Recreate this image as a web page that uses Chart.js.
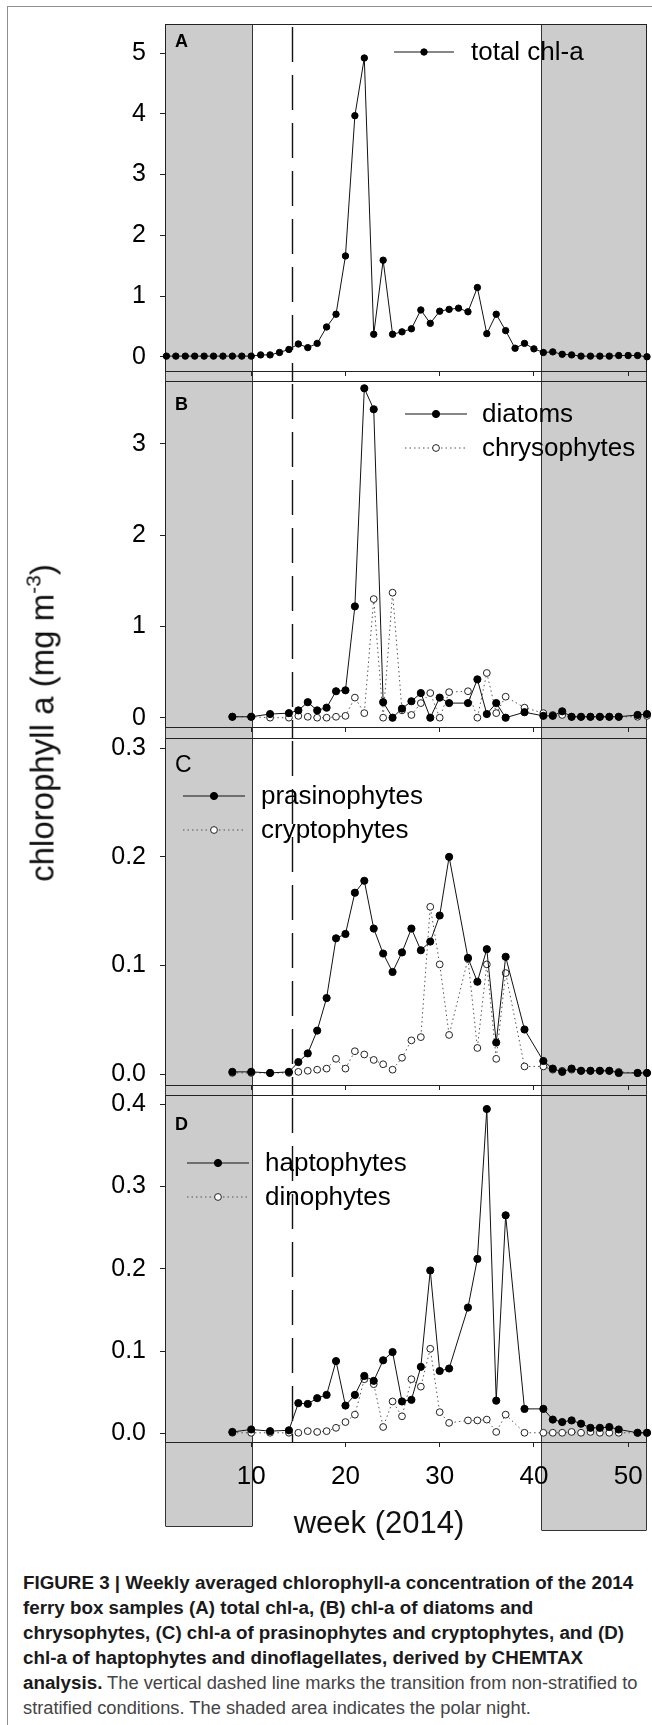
<!DOCTYPE html>
<html>
<head>
<meta charset="utf-8">
<script src="https://cdn.jsdelivr.net/npm/chart.js@4.4.0/dist/chart.umd.min.js"></script>
<style>
  body { margin: 0; background: #fff; width: 652px; height: 1725px; overflow: hidden; position: relative;
         font-family: "Liberation Sans", Arial, sans-serif; }
  .frame { position: absolute; left: 7px; top: 6px; width: 700px; height: 1800px; border: 1px solid #8f8f8f; }
  canvas { position: absolute; left: 0; }
  .ytitle { position: absolute; left: 42px; top: 723px; transform: translate(-50%, -50%) rotate(-90deg);
            font-size: 33px; line-height: 1; white-space: nowrap; color: #111; }
  .ytitle sup { font-size: 21px; vertical-align: 13px; line-height: 0; }
  .xtitle { position: absolute; left: 379px; top: 1522px; transform: translate(-50%, -50%);
            font-size: 31px; line-height: 1; white-space: nowrap; color: #111; }
  .caption { position: absolute; left: 23px; top: 1570px; font-size: 18.3px; line-height: 25px;
             white-space: nowrap; color: #444; }
  .caption b { color: #1a1a1a; font-size: 18.8px; }
</style>
</head>
<body>
<div class="frame"></div>
<canvas id="panelA" width="652" height="381" style="top:0px"></canvas>
<canvas id="panelB" width="652" height="367" style="top:371px"></canvas>
<canvas id="panelC" width="652" height="367" style="top:728px"></canvas>
<canvas id="panelD" width="652" height="460" style="top:1085px"></canvas>
<div class="ytitle">chlorophyll a (mg m<sup>-3</sup>)</div>
<div class="xtitle">week (2014)</div>
<div class="caption">
  <b>FIGURE 3 | Weekly averaged chlorophyll-a concentration of the 2014</b><br>
  <b>ferry box samples (A) total chl-a, (B) chl-a of diatoms and</b><br>
  <b>chrysophytes, (C) chl-a of prasinophytes and cryptophytes, and (D)</b><br>
  <b>chl-a of haptophytes and dinoflagellates, derived by CHEMTAX</b><br>
  <b>analysis.</b> The vertical dashed line marks the transition from non-stratified to<br>
  stratified conditions. The shaded area indicates the polar night.
</div>
<script>
// weeks sampled
const weeksA = [1, 2, 3, 4, 5, 6, 7, 8, 9, 10, 11, 12, 13, 14, 15, 16, 17, 18, 19, 20,
  21, 22, 23, 24, 25, 26, 27, 28, 29, 30, 31, 32, 33, 34, 35, 36, 37, 38, 39, 40,
  41, 42, 43, 44, 45, 46, 47, 48, 49, 50, 51, 52];
const weeksBD = [8, 10, 12, 14, 15, 16, 17, 18, 19, 20, 21, 22, 23, 24, 25, 26, 27, 28, 29, 30,
  31, 33, 34, 35, 36, 37, 39, 41, 42, 43, 44, 45, 46, 47, 48, 49, 51, 52];

const totalChl = [0.01, 0.01, 0.01, 0.01, 0.01, 0.01, 0.01, 0.01, 0.01, 0.01,
  0.03, 0.03, 0.07, 0.12, 0.21, 0.15, 0.22, 0.49, 0.70, 1.66,
  3.97, 4.92, 0.37, 1.59, 0.37, 0.41, 0.46, 0.77, 0.55, 0.75,
  0.78, 0.80, 0.74, 1.14, 0.38, 0.70, 0.43, 0.14, 0.22, 0.13,
  0.07, 0.08, 0.04, 0.03, 0.01, 0.01, 0.01, 0.01, 0.02, 0.02, 0.02, 0.00];

const diatoms = [0.01, 0.01, 0.04, 0.05, 0.08, 0.17, 0.08, 0.11, 0.29, 0.30,
  1.22, 3.61, 3.38, 0.17, 0.00, 0.10, 0.18, 0.27, 0.00, 0.22,
  0.16, 0.16, 0.42, 0.04, 0.16, 0.00, 0.06, 0.02, 0.02, 0.07,
  0.01, 0.01, 0.01, 0.01, 0.01, 0.01, 0.03, 0.04];
const chrysophytes = [0.01, 0.01, 0.00, 0.00, 0.02, 0.01, 0.00, 0.00, 0.01, 0.02,
  0.22, 0.05, 1.30, 0.00, 1.37, 0.08, 0.03, 0.16, 0.27, 0.00,
  0.28, 0.29, 0.00, 0.49, 0.05, 0.23, 0.11, 0.05, 0.03, 0.03,
  0.01, 0.01, 0.01, 0.01, 0.01, 0.01, 0.01, 0.02];

const prasinophytes = [0.002, 0.002, 0.001, 0.002, 0.011, 0.019, 0.040, 0.070, 0.125, 0.129,
  0.167, 0.178, 0.134, 0.111, 0.094, 0.112, 0.134, 0.114, 0.122, 0.146,
  0.200, 0.107, 0.085, 0.115, 0.029, 0.108, 0.041, 0.012, 0.005, 0.002,
  0.005, 0.003, 0.003, 0.003, 0.003, 0.001, 0.001, 0.001];
const cryptophytes = [0.001, 0.001, 0.001, 0.001, 0.002, 0.003, 0.004, 0.005, 0.014, 0.005,
  0.021, 0.018, 0.013, 0.009, 0.004, 0.015, 0.031, 0.034, 0.154, 0.101,
  0.036, 0.106, 0.024, 0.101, 0.014, 0.093, 0.007, 0.007, 0.004, 0.003,
  0.004, 0.003, 0.003, 0.003, 0.003, 0.002, 0.001, 0.001];

const haptophytes = [0.002, 0.005, 0.003, 0.004, 0.037, 0.036, 0.043, 0.047, 0.088, 0.034,
  0.047, 0.070, 0.064, 0.089, 0.099, 0.039, 0.041, 0.081, 0.198, 0.076,
  0.079, 0.153, 0.212, 0.394, 0.040, 0.265, 0.030, 0.030, 0.017, 0.014,
  0.016, 0.012, 0.007, 0.007, 0.008, 0.005, 0.001, 0.001];
const dinophytes = [0.001, 0.001, 0.001, 0.001, 0.001, 0.003, 0.002, 0.003, 0.007, 0.014,
  0.023, 0.066, 0.060, 0.008, 0.039, 0.021, 0.066, 0.057, 0.103, 0.026,
  0.013, 0.016, 0.016, 0.017, 0.002, 0.023, 0.001, 0.001, 0.001, 0.001,
  0.002, 0.001, 0.002, 0.001, 0.001, 0.001, 0.001, 0.001];

// axis ticks
const weekTicks = ['10', '20', '30', '40', '50'];
const ticksA = ['0', '1', '2', '3', '4', '5'];
const ticksB = ['0', '1', '2', '3'];
const ticksC = ['0.0', '0.1', '0.2', '0.3'];
const ticksD = ['0.0', '0.1', '0.2', '0.3', '0.4'];

// polar night shading and stratification onset (weeks)
const nightEnd = 10.05;
const nightStart = 40.7;
const stratWeek = 14.35;

const FONT = '"Liberation Sans", Arial, sans-serif';

function crisp(v) { return Math.round(v) + 0.5; }

// shading, dashed line and panel frame go under the axes and the data
const backdrop = {
  id: 'backdrop',
  beforeDraw(chart, args, opts) {
    const { ctx, chartArea: a, scales: { x } } = chart;
    const xl = crisp(x.getPixelForValue(nightEnd));
    const xr = crisp(x.getPixelForValue(nightStart));
    const left = crisp(a.left), right = crisp(a.right) - 1;
    const botL = opts.boxBottom ? a.bottom + opts.boxBottom[0] : chart.height;
    const botR = opts.boxBottom ? a.bottom + opts.boxBottom[1] : chart.height;
    ctx.save();
    ctx.fillStyle = '#cccccc';
    ctx.fillRect(left, a.top, xl - left, botL - a.top);
    ctx.fillRect(xr, a.top, right - xr, botR - a.top);

    ctx.strokeStyle = '#333';
    ctx.lineWidth = 1;
    ctx.beginPath();
    ctx.moveTo(xl, a.top); ctx.lineTo(xl, botL);
    ctx.moveTo(xr, a.top); ctx.lineTo(xr, botR);
    ctx.moveTo(left, a.top); ctx.lineTo(left, botL);
    ctx.moveTo(right, a.top); ctx.lineTo(right, botR);
    if (opts.boxBottom) {
      ctx.moveTo(left, crisp(botL)); ctx.lineTo(xl, crisp(botL));
      ctx.moveTo(xr, crisp(botR)); ctx.lineTo(right, crisp(botR));
    }
    ctx.stroke();

    const xs = crisp(x.getPixelForValue(stratWeek));
    ctx.strokeStyle = '#111';
    ctx.lineWidth = 1.4;
    ctx.setLineDash([35, 13]);
    ctx.beginPath();
    ctx.moveTo(xs, a.top + 3);
    ctx.lineTo(xs, opts.boxBottom ? a.bottom : chart.height);
    ctx.stroke();
    ctx.setLineDash([]);

    ctx.strokeStyle = '#222';
    ctx.lineWidth = 1;
    ctx.strokeRect(left, crisp(a.top), right - left, Math.round(a.bottom - a.top));
    ctx.restore();
  }
};

const keyBox = {
  id: 'keyBox',
  afterDatasetsDraw(chart, args, opts) {
    const { ctx, chartArea: a } = chart;
    ctx.save();
    chart.data.datasets.forEach((ds, i) => {
      const y = opts.y + i * 34;
      ctx.strokeStyle = ds.borderColor;
      ctx.lineWidth = ds.borderWidth;
      ctx.setLineDash(ds.borderDash || []);
      ctx.beginPath();
      ctx.moveTo(opts.x1, y); ctx.lineTo(opts.x2, y);
      ctx.stroke();
      ctx.setLineDash([]);
      ctx.beginPath();
      ctx.arc((opts.x1 + opts.x2) / 2, y, ds.pointRadius, 0, Math.PI * 2);
      ctx.fillStyle = ds.pointBackgroundColor;
      ctx.fill();
      ctx.strokeStyle = ds.pointBorderColor;
      ctx.lineWidth = 1;
      ctx.stroke();
      ctx.fillStyle = '#000';
      ctx.font = '26px ' + FONT;
      ctx.textBaseline = 'middle';
      ctx.textAlign = 'left';
      ctx.fillText(ds.label, opts.tx, y + 1);
    });
    ctx.font = opts.letterFont + ' ' + FONT;
    ctx.fillStyle = '#000';
    ctx.textBaseline = 'middle';
    ctx.fillText(opts.letter, a.left + 10, opts.letterY);
    ctx.restore();
  }
};

function solid(label, xs, ys, r) {
  return {
    label, data: xs.map((w, i) => ({ x: w, y: ys[i] })),
    borderColor: '#111', borderWidth: 1, tension: 0,
    pointRadius: r, pointBackgroundColor: '#000', pointBorderColor: '#000', pointBorderWidth: 1,
    clip: 8
  };
}
function dotted(label, xs, ys) {
  return {
    label, data: xs.map((w, i) => ({ x: w, y: ys[i] })),
    borderColor: '#555', borderWidth: 1, borderDash: [1.5, 3], tension: 0,
    pointRadius: 3.4, pointBackgroundColor: '#fff', pointBorderColor: '#222', pointBorderWidth: 1,
    clip: 8
  };
}

function makePanel(id, cfg) {
  const showX = !!cfg.showX;
  return new Chart(document.getElementById(id), {
    type: 'line',
    data: { datasets: cfg.datasets },
    options: {
      responsive: false, animation: false, devicePixelRatio: 1,
      layout: { padding: { top: cfg.padTop, right: 4, left: 0, bottom: 0 } },
      plugins: {
        legend: { display: false }, tooltip: { enabled: false },
        backdrop: { boxBottom: cfg.boxBottom },
        keyBox: cfg.key
      },
      scales: {
        x: {
          type: 'linear', min: 0.85, max: 52.0,
          afterBuildTicks: s => { s.ticks = weekTicks.map(t => ({ value: Number(t) })); },
          afterFit: s => { s.height = cfg.xHeight; s.paddingLeft = 0; s.paddingRight = 0; },
          ticks: { display: showX, color: '#000', font: { size: 26, family: FONT }, padding: 14,
                   maxRotation: 0, autoSkip: false, callback: (v, i) => weekTicks[i] },
          grid: { drawOnChartArea: false, drawTicks: true, tickLength: 5, color: '#222' },
          border: { display: false }
        },
        y: {
          type: 'linear', min: cfg.yMin, max: cfg.yMax,
          afterBuildTicks: s => { s.ticks = cfg.yTicks.map(t => ({ value: Number(t) })); },
          afterFit: s => { s.width = 165; s.paddingTop = 0; s.paddingBottom = 0; },
          ticks: { color: '#000', font: { size: 25, family: FONT }, padding: 14,
                   callback: (v, i) => cfg.yTicks[i] },
          grid: { drawOnChartArea: false, drawTicks: true, tickLength: 5, color: '#222' },
          border: { display: false }
        }
      }
    },
    plugins: [backdrop, keyBox]
  });
}

makePanel('panelA', {
  padTop: 24, xHeight: 10, yMin: -0.235, yMax: 5.48, yTicks: ticksA,
  datasets: [solid('total chl-a', weeksA, totalChl, 3.2)],
  key: { x1: 394, x2: 454, tx: 471, y: 52, letter: 'A', letterFont: 'bold 18px', letterY: 42 }
});
makePanel('panelB', {
  padTop: 10, xHeight: 11, yMin: -0.102, yMax: 3.69, yTicks: ticksB,
  datasets: [solid('diatoms', weeksBD, diatoms, 3.6), dotted('chrysophytes', weeksBD, chrysophytes)],
  key: { x1: 405, x2: 467, tx: 482, y: 43, letter: 'B', letterFont: 'bold 18px', letterY: 34 }
});
makePanel('panelC', {
  padTop: 10, xHeight: 10, yMin: -0.0101, yMax: 0.3095, yTicks: ticksC,
  datasets: [solid('prasinophytes', weeksBD, prasinophytes, 3.6), dotted('cryptophytes', weeksBD, cryptophytes)],
  key: { x1: 183, x2: 245, tx: 261, y: 68, letter: 'C', letterFont: '23px', letterY: 38 }
});
makePanel('panelD', {
  padTop: 10, xHeight: 103, yMin: -0.0102, yMax: 0.411, yTicks: ticksD, showX: true,
  boxBottom: [84, 88],
  datasets: [solid('haptophytes', weeksBD, haptophytes, 3.6), dotted('dinophytes', weeksBD, dinophytes)],
  key: { x1: 187, x2: 249, tx: 265, y: 78, letter: 'D', letterFont: 'bold 18px', letterY: 40 }
});
</script>
</body>
</html>
